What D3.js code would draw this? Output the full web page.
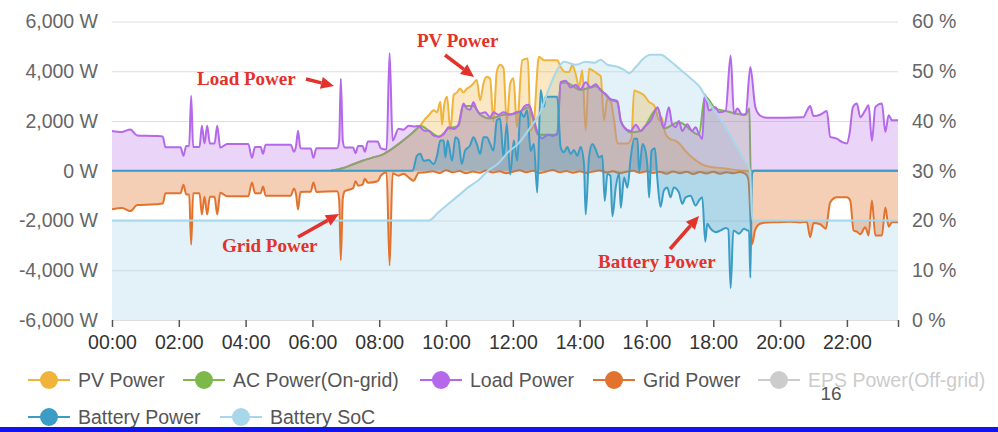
<!DOCTYPE html>
<html lang="en">
<head>
<meta charset="UTF-8">
<script src="https://d3js.org/d3.v7.min.js"></script>
<title>Daily power flow</title>
<style>
  body { margin: 0; background: #fff; }
  svg text { font-family: "Liberation Sans", Arial, Helvetica, sans-serif; }
  .gridlines line { stroke: #dedede; }
  .gridlines .domain { stroke: none; }
  .note { font-family: "Liberation Serif", "Times New Roman", serif; font-weight: bold; fill: #e2322b; font-size: 19px; }
</style>
</head>
<body>
<svg id="chart" width="998" height="432"></svg>
<script>
// [hour of day, value] pairs
const pvPower = [[6.55,0],[6.9,100],[7.2,250],[7.5,400],[7.8,530],[8.1,650],[8.35,850],[8.7,1200],[9.0,1530],[9.23,1820],[9.38,2090],[9.48,2230],[9.63,2430],[9.73,2350],[9.83,2770],[9.88,1850],[9.95,2700],[10.03,2970],[10.13,1630],[10.23,3050],[10.33,3150],[10.42,3310],[10.52,3150],[10.62,3300],[10.72,3380],[10.82,3510],[10.92,3650],[11.02,2830],[11.12,3510],[11.22,3780],[11.32,3700],[11.42,1980],[11.52,3990],[11.62,4260],[11.72,4130],[11.82,1900],[11.92,3500],[12.02,3720],[12.12,1760],[12.28,4440],[12.45,4510],[12.53,1620],[12.63,2000],[12.78,4580],[12.93,4440],[13.33,4440],[13.43,4170],[13.58,3970],[13.68,3970],[13.78,4240],[13.88,3900],[13.98,3360],[14.08,4040],[14.18,1620],[14.28,4100],[14.43,4000],[14.53,3900],[14.63,3800],[14.73,2030],[14.83,2900],[14.93,2800],[15.03,2030],[15.13,1100],[15.43,1100],[15.55,1300],[15.63,3230],[15.78,3150],[15.93,3030],[16.08,2760],[16.23,2630],[16.38,2030],[16.45,2150],[16.57,1480],[16.7,1280],[16.86,1210],[17.0,1070],[17.16,810],[17.36,540],[17.56,340],[17.76,200],[18.06,130],[18.4,80],[18.76,20],[19.1,0]];

const acPower = [[6.55,0],[6.9,100],[7.2,250],[7.5,400],[7.8,530],[8.1,650],[8.35,850],[8.7,1200],[9.0,1530],[9.25,1800],[9.5,1600],[9.78,1370],[10.08,1700],[10.37,1800],[10.52,2600],[10.82,2600],[11.02,2250],[11.32,2100],[11.72,2250],[12.1,2300],[12.48,2550],[12.75,1450],[13.33,1450],[13.43,3500],[13.58,3550],[14.03,3250],[14.48,3400],[14.93,2850],[15.13,2750],[15.23,2000],[15.53,1550],[15.83,1600],[16.33,2500],[16.52,1700],[16.97,1950],[17.57,1450],[17.75,3000],[18.07,2500],[18.37,2400],[18.97,2250],[19.08,2500],[19.12,0],[23.53,0]];

const loadPower = [[0,1600],[0.3,1560],[0.55,1660],[0.75,1420],[1.3,1400],[1.52,1380],[1.6,940],[2.05,940],[2.14,600],[2.22,1000],[2.31,1000],[2.37,3020],[2.43,950],[2.62,950],[2.69,1810],[2.77,1100],[2.85,1810],[2.93,1100],[3.07,1100],[3.15,1810],[3.24,930],[3.45,1080],[4.08,1080],[4.19,520],[4.28,950],[4.45,950],[4.52,680],[4.6,1050],[5.35,1050],[5.45,760],[5.51,1000],[5.57,1610],[5.64,900],[5.95,890],[6.03,520],[6.12,900],[6.74,900],[6.8,1200],[6.85,3700],[6.91,1200],[6.97,930],[7.22,930],[7.29,700],[7.37,1000],[7.5,1000],[7.57,760],[7.66,1180],[7.95,1180],[8.05,900],[8.22,850],[8.31,4730],[8.4,1210],[8.58,1690],[8.73,1650],[8.88,1810],[9.03,1780],[9.18,1800],[9.35,1610],[9.48,1610],[9.63,1410],[9.78,1370],[9.93,1470],[10.08,1750],[10.23,1680],[10.37,1850],[10.52,2700],[10.62,2500],[10.72,2450],[10.82,2750],[10.92,2450],[11.02,2300],[11.17,2350],[11.32,2150],[11.42,2350],[11.57,2250],[11.72,2350],[11.92,2250],[12.1,2350],[12.25,2400],[12.35,2600],[12.48,2650],[12.6,2200],[12.75,1500],[12.88,1300],[13.05,1450],[13.2,1400],[13.33,1500],[13.43,3560],[13.58,3620],[13.73,3350],[13.88,3450],[14.03,3280],[14.18,3560],[14.33,3350],[14.48,3480],[14.63,3220],[14.78,3080],[14.93,2880],[15.13,2800],[15.23,2020],[15.33,1750],[15.53,1600],[15.68,1850],[15.83,1600],[15.93,1750],[16.13,2020],[16.33,2550],[16.52,1750],[16.67,2550],[16.77,1870],[16.87,1750],[16.97,2000],[17.07,1600],[17.22,1870],[17.37,1600],[17.47,1750],[17.57,1480],[17.67,1280],[17.75,3070],[17.87,2420],[18.07,2550],[18.17,2350],[18.37,2420],[18.52,4630],[18.62,2280],[18.72,2500],[18.87,2250],[18.97,2280],[19.11,4170],[19.26,2550],[19.41,2210],[19.6,2130],[20.7,2150],[20.8,2400],[20.9,2600],[21.0,2200],[21.2,2250],[21.4,2400],[21.5,1360],[21.7,1290],[21.86,1150],[22.0,1100],[22.08,1500],[22.18,2560],[22.3,2700],[22.4,2150],[22.55,2430],[22.65,2630],[22.75,1200],[22.85,2560],[23.05,2700],[23.15,1560],[23.25,2230],[23.35,2030],[23.53,2030]];

const gridPower = [[0,-1550],[0.3,-1500],[0.55,-1620],[0.75,-1380],[1.3,-1350],[1.52,-1320],[1.6,-900],[2.05,-900],[2.14,-560],[2.22,-950],[2.31,-950],[2.37,-2970],[2.43,-900],[2.62,-900],[2.69,-1760],[2.77,-1050],[2.85,-1760],[2.93,-1050],[3.07,-1050],[3.15,-1760],[3.24,-880],[3.45,-1030],[4.08,-1030],[4.19,-470],[4.28,-900],[4.45,-900],[4.52,-630],[4.6,-1000],[5.35,-1000],[5.45,-710],[5.51,-950],[5.57,-1560],[5.64,-850],[5.95,-840],[6.03,-470],[6.12,-850],[6.74,-820],[6.8,-1150],[6.85,-3600],[6.91,-1100],[6.97,-820],[7.22,-700],[7.29,-420],[7.37,-600],[7.5,-560],[7.57,-320],[7.66,-480],[7.95,-420],[8.05,-200],[8.22,-60],[8.31,-3800],[8.4,-100],[8.58,-200],[8.73,-120],[8.88,-270],[9.03,-400],[9.18,-80],[9.4,-60],[9.6,-20],[9.8,-90],[10.0,20],[10.2,-60],[10.4,-10],[10.6,-100],[10.8,-30],[11.0,-80],[11.2,10],[11.4,-70],[11.6,-20],[11.8,-100],[12.0,-40],[12.2,20],[12.4,-60],[12.6,0],[12.8,-90],[13.0,-30],[13.2,30],[13.4,-60],[13.6,-10],[13.8,-80],[14.0,-20],[14.2,-90],[14.4,-30],[14.6,10],[14.8,-70],[15.0,-20],[15.2,-100],[15.4,-40],[15.6,0],[15.8,-80],[16.0,-20],[16.2,-90],[16.4,-40],[16.6,-120],[16.8,-30],[17.0,-100],[17.2,-40],[17.4,-130],[17.6,-50],[17.8,-110],[18.0,-40],[18.2,-120],[18.4,-60],[18.6,-100],[18.8,-50],[18.96,-120],[19.05,-330],[19.16,-2950],[19.25,-2400],[19.4,-2130],[19.6,-2080],[19.9,-2070],[20.3,-2050],[20.6,-2080],[20.8,-2050],[20.9,-2670],[21.0,-2100],[21.2,-2150],[21.37,-2330],[21.5,-1270],[21.7,-1070],[22.0,-1070],[22.1,-1200],[22.2,-2400],[22.3,-2450],[22.4,-2550],[22.55,-2270],[22.65,-2600],[22.75,-1200],[22.85,-2600],[23.05,-2600],[23.15,-1480],[23.25,-2250],[23.35,-2070],[23.53,-2070]];

const batteryPower = [[0,0],[9.0,0],[9.13,610],[9.23,680],[9.33,400],[9.48,430],[9.63,270],[9.73,600],[9.83,1220],[9.93,1220],[9.98,540],[10.05,1220],[10.18,400],[10.28,1350],[10.37,1250],[10.47,270],[10.57,810],[10.72,1020],[10.82,1350],[10.92,1080],[11.02,680],[11.12,1350],[11.22,1350],[11.32,1080],[11.42,810],[11.52,2030],[11.62,2100],[11.72,540],[11.82,1900],[11.92,-150],[12.03,1220],[12.13,400],[12.23,2360],[12.33,2160],[12.43,2430],[12.53,800],[12.63,1080],[12.73,-880],[12.83,3250],[12.93,2570],[12.98,2970],[13.33,2970],[13.43,950],[13.53,740],[13.63,950],[13.73,680],[13.83,830],[13.93,600],[14.03,950],[14.13,270],[14.18,-1760],[14.28,540],[14.38,1080],[14.48,850],[14.58,540],[14.68,600],[14.75,-1220],[14.83,-130],[14.92,-200],[14.98,-1830],[15.08,-680],[15.18,-100],[15.23,-1490],[15.33,-270],[15.43,-680],[15.53,540],[15.63,1290],[15.73,1290],[15.78,-70],[15.88,1080],[15.97,800],[16.03,140],[16.08,-1080],[16.15,800],[16.25,900],[16.33,-400],[16.42,-1450],[16.52,-800],[16.62,-670],[16.72,-1070],[16.82,-670],[16.97,-870],[17.07,-1330],[17.17,-1070],[17.32,-1000],[17.47,-1400],[17.57,-1200],[17.67,-1070],[17.76,-2850],[17.82,-2130],[17.92,-2330],[18.07,-2470],[18.22,-2400],[18.37,-2300],[18.45,-2350],[18.52,-4720],[18.6,-2400],[18.77,-2530],[18.92,-2330],[19.02,-2400],[19.07,-2400],[19.11,-4300],[19.16,-130],[19.22,0],[23.53,0]];

const batterySoc = [[0,20],[9.48,20],[9.78,21.7],[10.08,23.4],[10.37,25],[10.67,26.7],[10.97,28.1],[11.27,30.1],[11.57,31.5],[11.87,33.8],[12.17,35.5],[12.5,38.5],[12.83,41.9],[13.03,45.6],[13.33,50.3],[13.53,51.9],[13.88,51.3],[14.18,51.9],[14.43,51.7],[14.63,52.3],[14.83,51.3],[15.13,50.9],[15.33,50.3],[15.48,49.6],[15.7,51],[15.92,52.6],[16.12,53.3],[16.42,53.3],[16.72,52],[17.02,50.3],[17.32,48.6],[17.62,46.6],[17.82,44.2],[18.02,42.2],[18.3,39.5],[18.6,36],[18.9,32.5],[19.1,30],[19.17,20],[23.53,20]];

const powerTicks = [-6000, -4000, -2000, 0, 2000, 4000, 6000];
const socTicks = [0, 10, 20, 30, 40, 50, 60];
const hourTicks = [0, 2, 4, 6, 8, 10, 12, 14, 16, 18, 20, 22];
const dayEnd = 23.53;

const legendNames = ['PV Power', 'AC Power(On-grid)', 'Load Power', 'Grid Power', 'EPS Power(Off-grid)', 'Battery Power', 'Battery SoC'];
const legendColors = ['#f0b43c', '#7cb84a', '#b468ea', '#e2732f', '#cccccc', '#3b9dc6', '#a8d7ea'];

const svg = d3.select('svg#chart');
const margins = {top: 21.5, right: 100, bottom: 112, left: 112};
const width = +svg.attr('width');
const height = +svg.attr('height');
const plotRight = 898;

const xScale = d3.scaleLinear().domain([0, dayEnd]).range([margins.left, plotRight]);
const yPower = d3.scaleLinear().domain([-6000, 6000]).range([320, margins.top]);
const ySoc = d3.scaleLinear().domain([0, 60]).range([320, margins.top]);

// gridlines
svg.append('g')
    .attr('class', 'gridlines')
    .attr('transform', `translate(${margins.left},0)`)
    .call(d3.axisLeft(yPower).tickValues(powerTicks).tickSize(-(plotRight - margins.left)).tickFormat(''));

// left axis
const fmt = d3.format(',');
svg.append('g')
    .attr('transform', `translate(${margins.left},0)`)
    .call(d3.axisLeft(yPower).tickValues(powerTicks).tickSize(0).tickPadding(14)
        .tickFormat(d => (d < 0 ? '-' : '') + fmt(Math.abs(d)) + ' W'))
    .call(g => g.select('.domain').remove())
    .selectAll('text').style('font-size', '19.5px').attr('fill', '#666');

// right axis
svg.append('g')
    .attr('transform', `translate(${plotRight},0)`)
    .call(d3.axisRight(ySoc).tickValues(socTicks).tickSize(0).tickPadding(14).tickFormat(d => d + ' %'))
    .call(g => g.select('.domain').remove())
    .selectAll('text').style('font-size', '19.5px').attr('fill', '#666');

// bottom axis (end tick without a label)
const pad = h => (h < 10 ? '0' : '') + h + ':00';
svg.append('g')
    .attr('transform', `translate(0,320)`)
    .call(d3.axisBottom(xScale).tickValues(hourTicks.concat([dayEnd])).tickSize(7).tickSizeOuter(0).tickPadding(8)
        .tickFormat(d => d === dayEnd ? '' : pad(d)))
    .call(g => g.select('.domain').remove())
    .call(g => g.selectAll('line').attr('stroke', '#555').attr('stroke-width', 1.5))
    .selectAll('text').style('font-size', '19.5px').attr('fill', '#333');

// series
const area = yScale => d3.area().x(d => xScale(d[0])).y0(yScale === ySoc ? 320 : yPower(0)).y1(d => yScale(d[1])).curve(d3.curveMonotoneX);
const line = yScale => d3.line().x(d => xScale(d[0])).y(d => yScale(d[1])).curve(d3.curveMonotoneX);

const chartArea = svg.append('g');

// battery SoC fill sits behind everything
chartArea.append('path').datum(batterySoc)
    .attr('d', area(ySoc)).attr('fill', legendColors[6]).attr('fill-opacity', 0.32);

const powerSeries = [
    {data: pvPower, color: legendColors[0], alpha: 0.3},
    {data: acPower, color: legendColors[1], alpha: 0.22},
    {data: loadPower, color: legendColors[2], alpha: 0.28},
    {data: gridPower, color: legendColors[3], alpha: 0.35},
    {data: batteryPower, color: legendColors[5], alpha: 0.3}
];

powerSeries.forEach(s => {
    chartArea.append('path').datum(s.data)
        .attr('d', area(yPower)).attr('fill', s.color).attr('fill-opacity', s.alpha);
    chartArea.append('path').datum(s.data)
        .attr('d', line(yPower)).attr('fill', 'none').attr('stroke', s.color).attr('stroke-width', 2);
});

chartArea.append('path').datum(batterySoc)
    .attr('d', line(ySoc)).attr('fill', 'none').attr('stroke', legendColors[6]).attr('stroke-width', 2);

// red annotations
const notes = [
    {text: 'Load Power', x: 197, y: 85, arrow: [306, 79, 334, 86]},
    {text: 'PV Power', x: 417, y: 47, arrow: [445, 55, 474, 77]},
    {text: 'Grid Power', x: 222, y: 252, arrow: [298, 237, 339, 214]},
    {text: 'Battery Power', x: 598, y: 268, arrow: [670, 249, 699, 216]}
];
const noteLayer = svg.append('g');
notes.forEach(n => {
    noteLayer.append('text').attr('class', 'note').attr('x', n.x).attr('y', n.y).text(n.text);
    const [x1, y1, x2, y2] = n.arrow;
    const a = Math.atan2(y2 - y1, x2 - x1);
    const bx = x2 - 13 * Math.cos(a), by = y2 - 13 * Math.sin(a);
    noteLayer.append('line').attr('x1', x1).attr('y1', y1).attr('x2', bx).attr('y2', by)
        .attr('stroke', '#e2322b').attr('stroke-width', 3.5);
    noteLayer.append('polygon')
        .attr('points', [[x2, y2], [bx + 6 * Math.sin(a), by - 6 * Math.cos(a)], [bx - 6 * Math.sin(a), by + 6 * Math.cos(a)]].map(p => p.join(',')).join(' '))
        .attr('fill', '#e2322b');
});

// legend
const legendX = [28, 183, 420, 593, 758, 28, 220];
const legendY = [380, 380, 380, 380, 380, 417, 417];
const legend = svg.append('g');
legendNames.forEach((name, i) => {
    const g = legend.append('g').attr('transform', `translate(${legendX[i]},${legendY[i]})`);
    g.append('line').attr('x1', 0).attr('x2', 42).attr('stroke', legendColors[i]).attr('stroke-width', 2);
    g.append('circle').attr('cx', 21).attr('r', 9).attr('fill', legendColors[i]);
    g.append('text').attr('x', 50).attr('dy', '0.35em').text(name)
        .style('font-size', '19.5px').attr('fill', i === 4 ? '#cccccc' : '#555');
});

// slide page number and bottom bar
svg.append('text').attr('x', 831).attr('y', 400).attr('text-anchor', 'middle')
    .style('font-size', '19px').attr('fill', '#555').text('16');
svg.append('rect').attr('x', 0).attr('y', 427).attr('width', width).attr('height', height - 427).attr('fill', '#1212ee');
</script>
</body>
</html>
